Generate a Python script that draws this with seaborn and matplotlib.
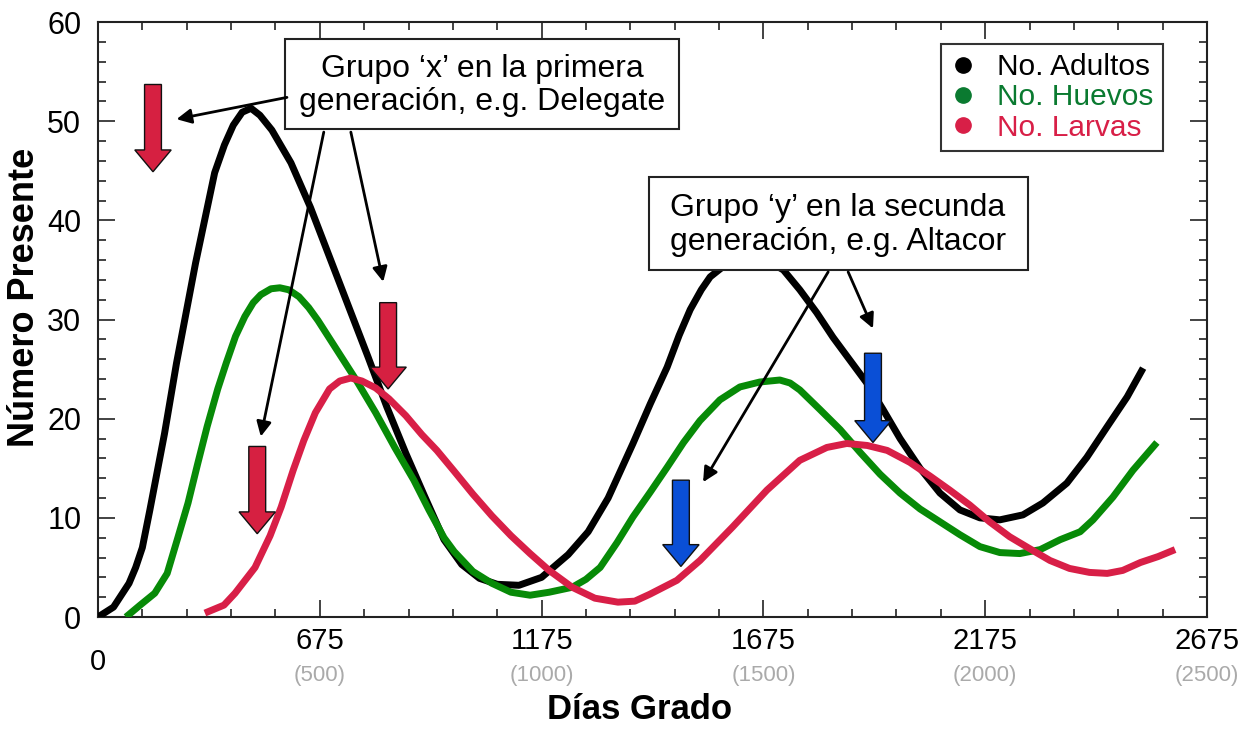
import pandas as pd
import numpy as np
import seaborn as sns
import matplotlib.pyplot as plt
from matplotlib.lines import Line2D
from matplotlib.patches import FancyArrow, Rectangle
from matplotlib.ticker import MultipleLocator
import matplotlib.transforms as mtransforms

# x values in degree-days (base scale, shown in grey under the ticks)
adult_x = [0, 35, 70, 85, 100, 117, 150, 177, 220, 263, 285, 305, 325, 345, 365, 392, 435, 479,
           522, 565, 609, 651, 694, 737, 780, 820, 860, 900, 949, 1000, 1060, 1105, 1150,
           1206, 1245, 1283, 1310, 1335, 1360, 1380, 1425, 1470, 1510, 1545, 1582, 1620, 1657,
           1695, 1733, 1770, 1808, 1853, 1898, 1943, 1988, 2033, 2085, 2130, 2184, 2229, 2275,
           2320, 2356]
adult_y = [0, 1.0, 3.4, 5.0, 7.0, 10.8, 18.5, 25.6, 35.7, 44.8, 47.6, 49.6, 50.9, 51.3, 50.6,
           49.1, 45.8, 41.3, 36.3, 31.3, 26.2, 21.2, 16.5, 12.1, 7.8, 5.3, 3.9, 3.3, 3.2, 4.0,
           6.3, 8.6, 12.0, 17.5, 21.5, 25.2, 28.4, 31.0, 33.0, 34.3, 35.9, 36.3, 35.9, 35.0,
           33.0, 30.7, 28.2, 25.9, 23.6, 20.9, 18.0, 15.0, 12.5, 10.8, 10.0, 9.8, 10.3, 11.5,
           13.5, 16.1, 19.2, 22.2, 25.1]

egg_x = [63, 95, 128, 156, 180, 203, 225, 246, 270, 289, 310, 331, 350, 367, 390, 410, 430,
         453, 475, 496, 539, 582, 626, 669, 712, 746, 780, 803, 845, 888, 931, 974, 1017,
         1069, 1100, 1132, 1170, 1206, 1245, 1283, 1320, 1357, 1402, 1447, 1492, 1537, 1560,
         1582, 1605, 1628, 1673, 1718, 1763, 1808, 1853, 1898, 1943, 1988, 2033, 2078, 2124,
         2169, 2214, 2243, 2288, 2333, 2387]
egg_y = [0, 1.2, 2.4, 4.4, 8.0, 11.5, 15.5, 19.2, 23.0, 25.6, 28.3, 30.3, 31.7, 32.5, 33.1,
         33.2, 33.0, 32.3, 31.2, 29.9, 26.9, 23.9, 20.6, 17.1, 13.8, 10.8, 8.0, 6.6, 4.6, 3.4,
         2.5, 2.2, 2.5, 3.0, 3.8, 5.0, 7.5, 10.1, 12.6, 15.1, 17.6, 19.8, 21.9, 23.2, 23.7,
         23.9, 23.6, 22.9, 21.9, 20.9, 18.9, 16.6, 14.4, 12.5, 10.9, 9.6, 8.3, 7.1, 6.5, 6.4,
         6.8, 7.8, 8.6, 9.8, 12.1, 14.8, 17.6]

larva_x = [241, 284, 309, 354, 388, 413, 440, 464, 490, 522, 545, 570, 595, 626, 656, 694,
           730, 764, 803, 845, 888, 931, 974, 1017, 1069, 1120, 1172, 1210, 1244, 1305, 1357,
           1431, 1508, 1582, 1643, 1688, 1734, 1779, 1830, 1876, 1920, 1965, 2010, 2055, 2100,
           2146, 2190, 2235, 2275, 2310, 2350, 2390, 2428]
larva_y = [0.4, 1.2, 2.4, 5.0, 8.2, 11.1, 14.8, 17.8, 20.6, 23.0, 23.8, 24.1, 23.8, 23.1,
           22.0, 20.3, 18.4, 16.8, 14.7, 12.4, 10.2, 8.2, 6.4, 4.7, 3.0, 1.9, 1.5, 1.6, 2.3,
           3.7, 5.7, 9.1, 12.8, 15.8, 17.1, 17.5, 17.3, 16.8, 15.6, 14.2, 12.8, 11.3, 9.6,
           8.1, 6.9, 5.7, 4.9, 4.5, 4.4, 4.7, 5.5, 6.1, 6.8]

series = ['No. Adultos', 'No. Huevos', 'No. Larvas']
line_colors = ['#000000', '#078A07', '#D81F47']
text_colors = ['#000000', '#0A7A30', '#D81F47']

major_ticks = [500, 1000, 1500, 2000, 2500]
top_labels = ['675', '1175', '1675', '2175', '2675']
sub_labels = ['(500)', '(1000)', '(1500)', '(2000)', '(2500)']

box_texts = ['Grupo \u2018x\u2019 en la primera\ngeneración, e.g. Delegate',
             'Grupo \u2018y\u2019 en la secunda\ngeneración, e.g. Altacor']
# thin pointer arrows: (start x, start y, end x, end y) in data units
pointers = [(426, 52.4, 177, 50.2), (509, 48.9, 367, 18.2), (570, 48.9, 643, 33.8),
            (1646, 34.8, 1364, 13.6), (1691, 34.8, 1747, 29.1)]
# block arrows: (x, top y, tip y, colour)
blocks = [(124, 53.7, 44.9, '#D62041'), (654, 31.7, 23.0, '#D62041'),
          (359, 17.2, 8.4, '#D62041'), (1314, 13.8, 5.1, '#0A4FD6'),
          (1747, 26.6, 17.6, '#0A4FD6')]

df = pd.concat([
    pd.DataFrame({'x': adult_x, 'y': adult_y, 'serie': series[0]}),
    pd.DataFrame({'x': egg_x, 'y': egg_y, 'serie': series[1]}),
    pd.DataFrame({'x': larva_x, 'y': larva_y, 'serie': series[2]}),
])

sns.set_style('ticks')
plt.rcParams['font.family'] = ['Liberation Sans', 'DejaVu Sans']
plt.rcParams['text.color'] = 'black'
plt.rcParams['axes.labelcolor'] = 'black'
plt.rcParams['xtick.color'] = 'black'
plt.rcParams['ytick.color'] = 'black'

fig = plt.figure(figsize=(12.45, 7.29), dpi=100)
ax = fig.add_axes([0.0787, 0.1536, 0.8908, 0.8162])

sns.lineplot(data=df, x='x', y='y', hue='serie', palette=dict(zip(series, line_colors)),
             linewidth=5, legend=False, sort=False, ax=ax, zorder=3)
for ln in ax.get_lines():
    ln.set_solid_joinstyle('round')
    ln.set_solid_capstyle('butt')

ax.set_xlim(0, 2500)
ax.set_ylim(0, 60)
ax.set_xticks(major_ticks)
ax.set_xticklabels(top_labels)
ax.xaxis.set_minor_locator(MultipleLocator(100))
ax.yaxis.set_major_locator(MultipleLocator(10))
ax.yaxis.set_minor_locator(MultipleLocator(2))
ax.tick_params(which='both', direction='in', top=True, right=True, width=1.2, color='#222222')
ax.tick_params(which='major', length=12, labelsize=21)
ax.tick_params(axis='y', which='major', labelsize=22, pad=12)
ax.tick_params(which='minor', length=6)
ax.tick_params(axis='x', which='major', pad=7)
for s in ax.spines.values():
    s.set_linewidth(1.5)
    s.set_color('#222222')

trans = mtransforms.blended_transform_factory(ax.transData, ax.transAxes)
for v, lab in zip(major_ticks, sub_labels):
    ax.text(v, -0.098, lab, transform=trans, ha='center', va='center', fontsize=16, color='#AAAAAA')
ax.text(0, -0.0756, '0', transform=trans, ha='center', va='center', fontsize=21)

ax.set_xlabel('Días Grado', fontsize=25, fontweight='bold')
ax.xaxis.label.set_va('baseline')
ax.xaxis.set_label_coords(0.488, -0.171)
ax.set_ylabel('Número Presente', fontsize=26, fontweight='bold')
ax.yaxis.label.set_va('center')
ax.yaxis.set_label_coords(-0.066, 0.538)

# annotation boxes
for (x0, y0, w, h), (tx, ty), txt in zip(
        [(0.169, 0.820, 0.3545, 0.151), (0.497, 0.583, 0.342, 0.156)],
        [(0.3463, 0.893), (0.667, 0.659)], box_texts):
    ax.add_patch(Rectangle((x0, y0), w, h, transform=ax.transAxes, facecolor='white',
                           edgecolor='#222222', linewidth=1.5, zorder=6))
    ax.text(tx, ty, txt, transform=ax.transAxes, ha='center', va='center', fontsize=23,
            linespacing=1.15, zorder=7)

for x0, y0, x1, y1 in pointers:
    ax.annotate('', xy=(x1, y1), xytext=(x0, y0),
                arrowprops=dict(arrowstyle='-|>', color='black', lw=2,
                                mutation_scale=22, shrinkA=0, shrinkB=0), zorder=8)

for x, top, tip, c in blocks:
    ax.add_patch(FancyArrow(x, top, 0, tip - top, width=38, head_width=82,
                            head_length=2.2, length_includes_head=True,
                            facecolor=c, edgecolor='#111111', linewidth=1, zorder=5))

handles = [Line2D([], [], marker='o', linestyle='', markersize=11, color=c) for c in text_colors]
leg = ax.legend(handles, series, loc='upper right', bbox_to_anchor=(0.96, 0.963),
                fontsize=21.5, frameon=True, fancybox=False, edgecolor='black',
                handlelength=0.9, handletextpad=0.7, labelspacing=0.08, borderpad=0.3,
                borderaxespad=0)
leg.get_frame().set_linewidth(1.5)
for t, c in zip(leg.get_texts(), text_colors):
    t.set_color(c)

fig.savefig('out.png', dpi=100, facecolor='white')
